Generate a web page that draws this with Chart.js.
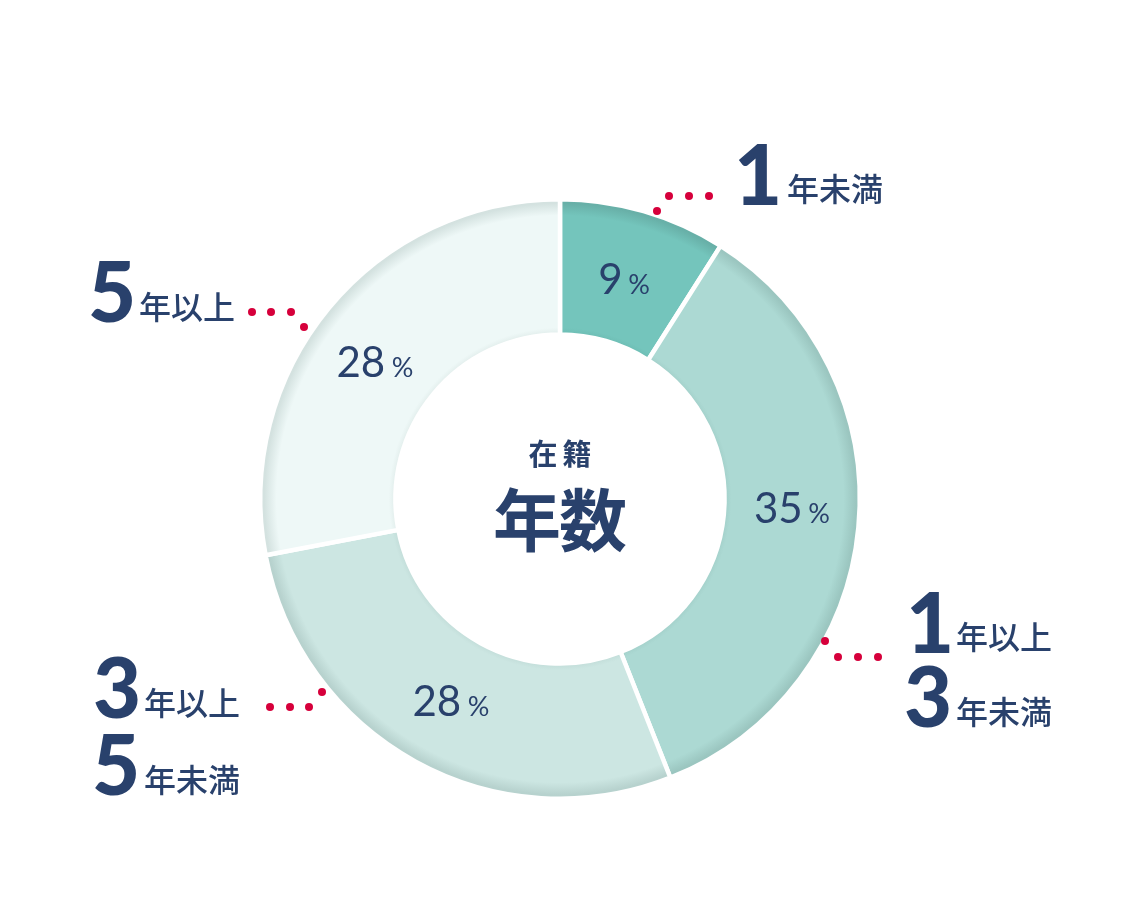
<!DOCTYPE html>
<html><head><meta charset="utf-8">
<script src="https://cdn.jsdelivr.net/npm/chart.js@4"></script>
<style>html,body{margin:0;padding:0;background:#fff;}canvas{display:block;}</style>
</head><body>
<canvas id="c" width="1121" height="923" style="width:1121px;height:923px"></canvas>
<script>
// ---- data ----
const categories = ['1年未満', '1年以上3年未満', '3年以上5年未満', '5年以上'];
const values = [9, 35, 28, 28];
const percentLabels = ['9', '35', '28', '28'];
const centerSmall = '在籍';
const centerLarge = '年数';
const outerLabelLines = [
  [['1', '年未満']],
  [['1', '年以上'], ['3', '年未満']],
  [['3', '年以上'], ['5', '年未満']],
  [['5', '年以上']]
];
// ---- styles ----
const baseColors = ['#74c5bc', '#acd9d3', '#cce6e2', '#eef8f7'];
const edgeColors = ['#68b0a8', '#9bc6c0', '#b7d2ce', '#d4e2e0'];
const innerEdgeColors = ['#6dbcb3', '#a2cfc9', '#c1dcd8', '#e0ecea'];
const NAVY = '#29416c';
const RED = '#d6003b';
const BORDER = 4.5;
const CUTOUT = 0.549;

// layout (canvas px) of the outer callouts: digit ink-left, text ink-left, ink-bottom per line
const calloutLayout = [
  [[738, 788, 205]],
  [[910, 957, 653], [906, 957, 728]],
  [[95, 145, 719], [95, 145, 796]],
  [[91, 140, 323]]
];
const calloutDots = [
  [[657, 211], [669, 196], [689, 196], [709, 196]],
  [[825, 641], [838, 657], [858, 657], [878, 657]],
  [[322, 692], [309, 707], [290, 707], [270, 707]],
  [[304, 327], [291, 312], [271, 312], [252, 312]]
];
const pctNudge = [[0, 2], [1, -13], [3, -2], [-6, 10]];

function ringGradient(ctx) {
  const chart = ctx.chart;
  const i = ctx.dataIndex;
  const ca = chart.chartArea;
  if (!ca) return baseColors[i];
  const cx = (ca.left + ca.right) / 2, cy = (ca.top + ca.bottom) / 2;
  const R = (Math.min(ca.width, ca.height) - BORDER) / 2;
  const r = R * CUTOUT;
  const g = chart.ctx.createRadialGradient(cx, cy, r, cx, cy, R);
  g.addColorStop(0, innerEdgeColors[i]);
  g.addColorStop(0.05, baseColors[i]);
  g.addColorStop(0.88, baseColors[i]);
  g.addColorStop(0.97, edgeColors[i]);
  g.addColorStop(1, edgeColors[i]);
  return g;
}

function drawPercent(ctx, num, cx, cy) {
  ctx.fillStyle = NAVY;
  ctx.textAlign = 'left';
  ctx.textBaseline = 'alphabetic';
  const f1 = '400 42px Lato, "Noto Sans", sans-serif';
  const f2 = '400 27px Lato, "Noto Sans", sans-serif';
  ctx.font = f1;
  const m1 = ctx.measureText(num);
  ctx.font = f2;
  const m2 = ctx.measureText('%');
  const w1 = m1.actualBoundingBoxLeft + m1.actualBoundingBoxRight;
  const w2 = m2.actualBoundingBoxLeft + m2.actualBoundingBoxRight;
  const gap = 9;
  const total = w1 + gap + w2;
  const x0 = cx - total / 2;
  const h = m1.actualBoundingBoxAscent + m1.actualBoundingBoxDescent;
  const base = cy + h / 2 - m1.actualBoundingBoxDescent;
  ctx.font = f1;
  ctx.fillText(num, x0 + m1.actualBoundingBoxLeft, base);
  ctx.font = f2;
  ctx.fillText('%', x0 + w1 + gap + m2.actualBoundingBoxLeft, base);
}

function drawCharsCentered(ctx, text, font, centers, bottom) {
  ctx.font = font;
  ctx.textAlign = 'center';
  ctx.textBaseline = 'alphabetic';
  [...text].forEach((ch, k) => {
    const m = ctx.measureText(ch);
    ctx.fillText(ch, centers[k], bottom - m.actualBoundingBoxDescent);
  });
}

const labelPlugin = {
  id: 'labelPlugin',
  afterDatasetsDraw(chart) {
    const ctx = chart.ctx;
    const meta = chart.getDatasetMeta(0);
    ctx.save();
    meta.data.forEach((arc, i) => {
      const p = arc.tooltipPosition();
      drawPercent(ctx, percentLabels[i], p.x + pctNudge[i][0], p.y + pctNudge[i][1]);
    });
    const a0 = meta.data[0];
    const cx = a0.x, cy = a0.y;
    ctx.fillStyle = NAVY;
    drawCharsCentered(ctx, centerSmall, '700 29px "Noto Sans CJK JP", sans-serif', [cx - 17, cx + 17], cy - 31);
    drawCharsCentered(ctx, centerLarge, '700 68px "Noto Sans CJK JP", sans-serif', [cx - 33, cx + 33], cy + 54);
    outerLabelLines.forEach((lines, i) => {
      lines.forEach((ln, j) => {
        const [dx, tx, by] = calloutLayout[i][j];
        ctx.textAlign = 'left';
        ctx.textBaseline = 'alphabetic';
        ctx.fillStyle = NAVY;
        ctx.font = '900 83px Lato, "DejaVu Sans", sans-serif';
        const md = ctx.measureText(ln[0]);
        ctx.fillText(ln[0], dx + md.actualBoundingBoxLeft, by - md.actualBoundingBoxDescent);
        ctx.font = '500 32px "Noto Sans CJK JP", sans-serif';
        const mt = ctx.measureText(ln[1]);
        ctx.fillText(ln[1], tx + mt.actualBoundingBoxLeft, by - mt.actualBoundingBoxDescent);
      });
      ctx.fillStyle = RED;
      calloutDots[i].forEach(([x, y]) => {
        ctx.beginPath();
        ctx.arc(x, y, 4, 0, Math.PI * 2);
        ctx.fill();
      });
    });
    ctx.restore();
  }
};

new Chart(document.getElementById('c'), {
  type: 'doughnut',
  data: {
    labels: categories,
    datasets: [{
      data: values,
      backgroundColor: ringGradient,
      borderColor: '#ffffff',
      borderWidth: BORDER,
      hoverOffset: 0
    }]
  },
  options: {
    responsive: false,
    animation: false,
    cutout: (CUTOUT * 100) + '%',
    rotation: 0,
    layout: { padding: { top: 197, bottom: 122, left: 258, right: 259 } },
    plugins: { legend: { display: false }, tooltip: { enabled: false } },
    events: []
  },
  plugins: [labelPlugin]
});
</script>
</body></html>
